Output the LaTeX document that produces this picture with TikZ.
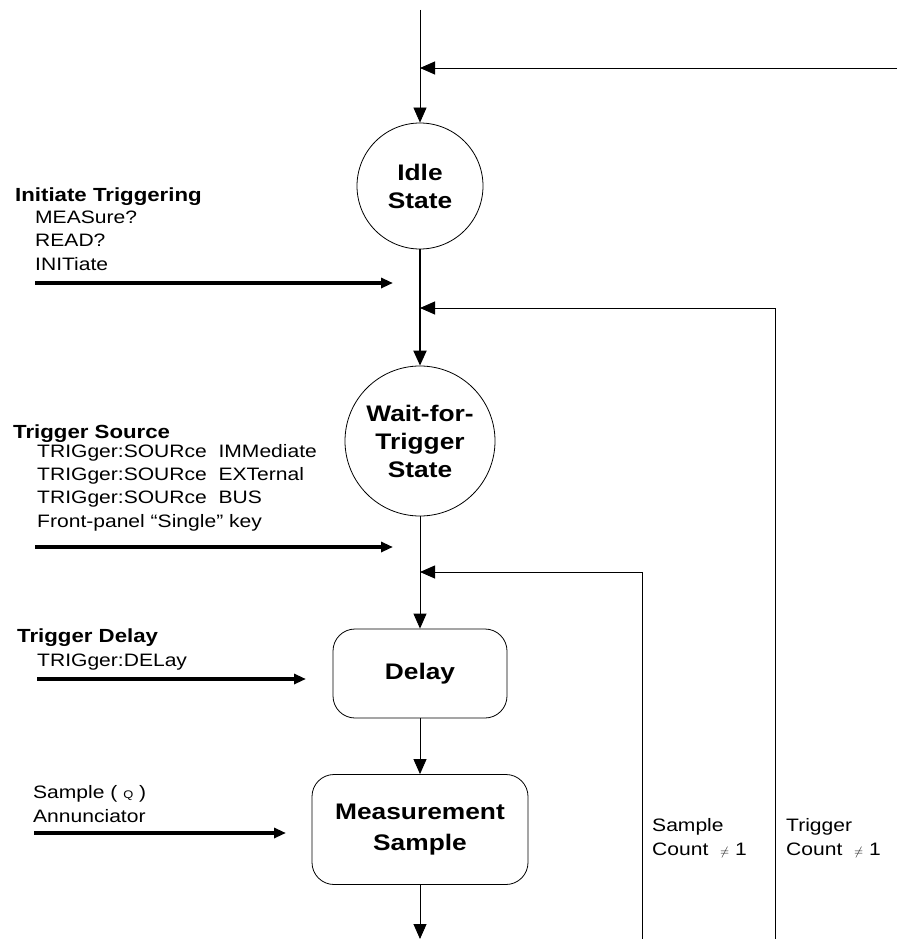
\documentclass[tikz,border=0pt]{standalone}
\usepackage{fontspec}
\setmainfont{Liberation Sans}[FakeStretch=1.17]
\usetikzlibrary{arrows.meta,positioning}

\begin{document}
\begin{tikzpicture}[x=1pt,y=-1pt,
  state/.style={draw,circle,line width=0.8pt,align=center,inner sep=0pt,font=\fontsize{22.5}{28}\selectfont\bfseries},
  box/.style={draw,rectangle,rounded corners=22pt,line width=0.8pt,align=center,font=\fontsize{22.5}{31}\selectfont\bfseries},
  lbl/.style={anchor=base west,align=left,inner sep=0pt,font=\fontsize{18}{23.3}\selectfont},
  head/.style={lbl,font=\fontsize{19}{23}\selectfont\bfseries},
  flow/.style={line width=0.9pt,-{Triangle[length=15pt,width=13pt]}},
  input/.style={line width=3.5pt,-{Triangle[length=12pt,width=10pt]}}]
\useasboundingbox (0,0) rectangle (897,939);

% states and steps
\node[state,minimum size=126pt] (idle) at (420,186) {Idle\\State};
\node[state,minimum size=150pt] (wait) at (420,441) {Wait-for-\\Trigger\\State};
\node[box,minimum width=174pt,minimum height=89pt] (delay) at (420,673.5) {Delay};
\node[box,minimum width=216pt,minimum height=110pt] (meas) at (420,829.5) {Measurement\\Sample};

% junctions on the main line
\coordinate (top) at (420,10);
\coordinate (trigin) at (420,68);
\coordinate (trigright) at (897,68);
\coordinate (trigback) at (420,308);
\coordinate (trigfoot) at (775,939);
\coordinate (sampback) at (420,572);
\coordinate (sampfoot) at (642,939);
\coordinate (out) at (420,939);

\draw[flow,line width=0.7pt] (top) -- (idle);
\draw[flow] (trigright) -- (trigin);
\draw[flow,line width=2pt] (idle) -- (wait);
\draw[flow] (trigfoot) |- (trigback);
\draw[flow] (wait) -- (delay);
\draw[flow] (sampfoot) |- (sampback);
\draw[flow] (delay) -- (meas);
\draw[flow] (meas) -- (out);

% inputs from the left
\node[head] (inithead) at (15,201) {Initiate Triggering};
\node[lbl] (initcmd) at (35,270) {MEASure?\\READ?\\INITiate};
\coordinate (initA) at (35,283);
\coordinate (initB) at (393,283);
\draw[input] (initA) -- (initB);

\node[head] (srchead) at (13,438) {Trigger Source};
\node[lbl] (srccmd) at (37,527) {TRIGger:SOURce\ \ IMMediate\\TRIGger:SOURce\ \ EXTernal\\TRIGger:SOURce\ \ BUS\\Front-panel “Single” key};
\coordinate (srcA) at (35,547);
\coordinate (srcB) at (393,547);
\draw[input] (srcA) -- (srcB);

\node[head] (dlyhead) at (17,642) {Trigger Delay};
\node[lbl] (dlycmd) at (37,666) {TRIGger:DELay};
\coordinate (dlyA) at (37,679);
\coordinate (dlyB) at (306,679);
\draw[input] (dlyA) -- (dlyB);

\node[lbl] (annun) at (33,822) {Sample ( {\fontsize{11}{11}\selectfont Q} )\\Annunciator};
\coordinate (annA) at (34,833);
\coordinate (annB) at (286,833);
\draw[input] (annA) -- (annB);

% loop conditions
\node[lbl] (sampcnt) at (652,855) {Sample\\Count\ \ {\fontsize{13}{13}\selectfont$\neq$}\ 1};
\node[lbl] (trigcnt) at (786,855) {Trigger\\Count\ \ {\fontsize{13}{13}\selectfont$\neq$}\ 1};

\end{tikzpicture}
\end{document}
